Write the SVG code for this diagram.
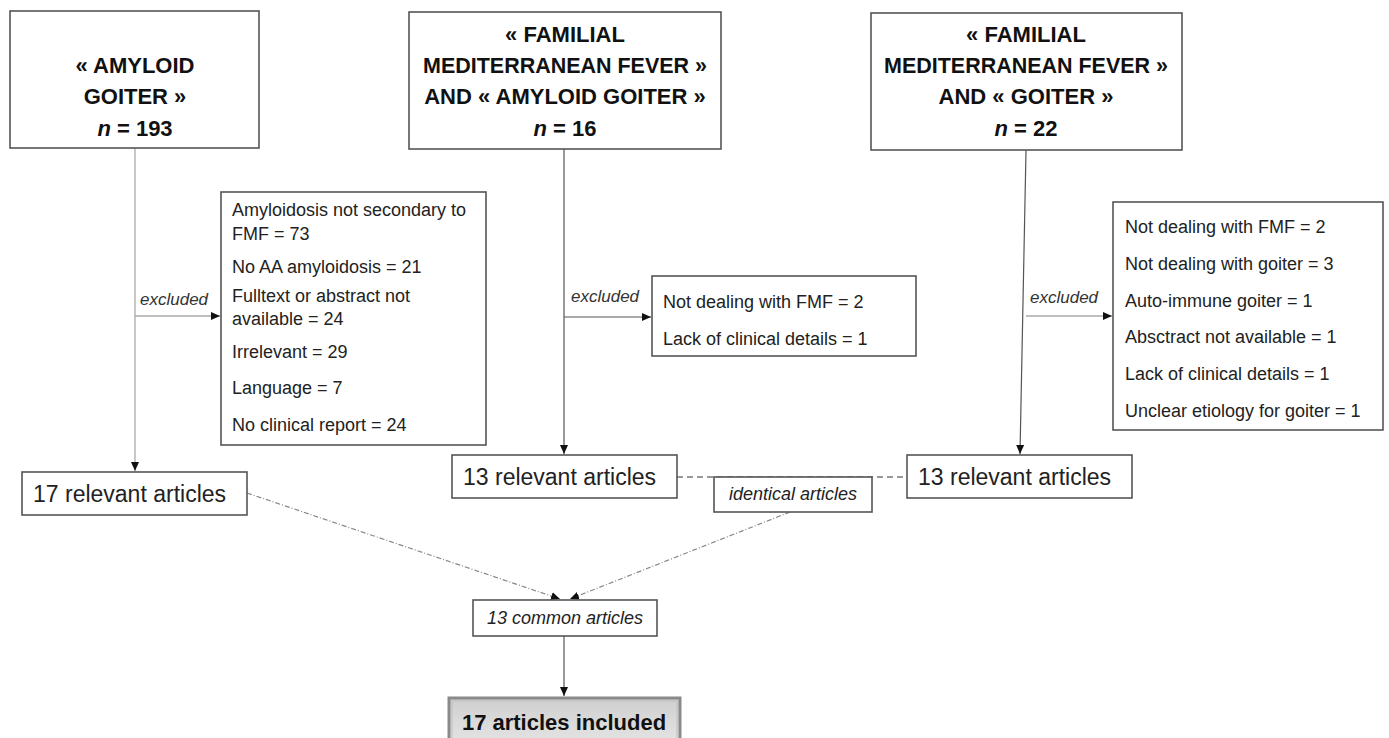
<svg xmlns="http://www.w3.org/2000/svg" width="1389" height="738" viewBox="0 0 1389 738">
<defs>
<style>
.box{fill:#fff;stroke:#555;stroke-width:1.6}
.hdr{font-family:"Liberation Sans",Arial,sans-serif;font-weight:bold;font-size:22px;fill:#111;text-anchor:middle}
.it{font-style:italic}
.txt{font-family:"Liberation Sans",Arial,sans-serif;font-size:18px;fill:#222}
.big{font-family:"Liberation Sans",Arial,sans-serif;font-size:23px;fill:#222}
.lbl{font-family:"Liberation Sans",Arial,sans-serif;font-size:17px;font-style:italic;fill:#333}
.ln{fill:none;stroke:#555;stroke-width:1.2}
.lnl{fill:none;stroke:#aaa;stroke-width:1.3}
.dash{fill:none;stroke:#777;stroke-width:1.5;stroke-dasharray:6 4}
.dd{fill:none;stroke:#888;stroke-width:1.2;stroke-dasharray:5 2 1 2}
</style>
<marker id="ah" markerWidth="10" markerHeight="10" refX="9" refY="5" orient="auto" markerUnits="userSpaceOnUse">
<path d="M0,1 L9,5 L0,9 Z" fill="#111"/>
</marker>
<linearGradient id="g" x1="0" y1="0" x2="0" y2="1">
<stop offset="0" stop-color="#cfcfcf"/>
<stop offset="1" stop-color="#e6e6e6"/>
</linearGradient>
</defs>
<rect width="1389" height="738" fill="#fff"/>

<g id="connectors">
<path class="lnl" d="M135,148 V471" marker-end="url(#ah)"/>
<path class="lnl" d="M135,316 H220" marker-end="url(#ah)"/>
<path class="ln" d="M564,149 V454" marker-end="url(#ah)"/>
<path class="ln" d="M564,317 H651" marker-end="url(#ah)"/>
<path class="ln" d="M1026,150 L1020,454" marker-end="url(#ah)"/>
<path class="lnl" d="M1026,316 H1112" marker-end="url(#ah)"/>
<path class="dash" d="M677,477 H907"/>
<path class="dd" d="M247,493 L560,599" marker-end="url(#ah)"/>
<path class="dd" d="M790,512 L570,599" marker-end="url(#ah)"/>
<path class="ln" d="M564,636 V696" marker-end="url(#ah)"/>
<text class="lbl" x="140" y="305">excluded</text>
<text class="lbl" x="571" y="302">excluded</text>
<text class="lbl" x="1030" y="303">excluded</text>
</g>

<g id="n1">
<rect class="box" x="10" y="11" width="249" height="137"/>
<text class="hdr" x="135" y="73">« AMYLOID</text>
<text class="hdr" x="135" y="104">GOITER »</text>
<text class="hdr" x="135" y="136"><tspan class="it">n</tspan> = 193</text>
</g>

<g id="n2">
<rect class="box" x="409" y="12" width="312" height="137"/>
<text class="hdr" x="565" y="42">« FAMILIAL</text>
<text class="hdr" x="565" y="73" textLength="284" lengthAdjust="spacingAndGlyphs">MEDITERRANEAN FEVER »</text>
<text class="hdr" x="565" y="104">AND « AMYLOID GOITER »</text>
<text class="hdr" x="565" y="136"><tspan class="it">n</tspan> = 16</text>
</g>

<g id="n3">
<rect class="box" x="871" y="13" width="311" height="137"/>
<text class="hdr" x="1026" y="42">« FAMILIAL</text>
<text class="hdr" x="1026" y="73" textLength="284" lengthAdjust="spacingAndGlyphs">MEDITERRANEAN FEVER »</text>
<text class="hdr" x="1026" y="104">AND « GOITER »</text>
<text class="hdr" x="1026" y="136"><tspan class="it">n</tspan> = 22</text>
</g>

<g id="ex1">
<rect class="box" x="221" y="192" width="265" height="253"/>
<text class="txt" x="232" y="216">Amyloidosis not secondary to</text>
<text class="txt" x="232" y="240">FMF = 73</text>
<text class="txt" x="232" y="273">No AA amyloidosis = 21</text>
<text class="txt" x="232" y="302">Fulltext or abstract not</text>
<text class="txt" x="232" y="325">available = 24</text>
<text class="txt" x="232" y="358">Irrelevant = 29</text>
<text class="txt" x="232" y="394">Language = 7</text>
<text class="txt" x="232" y="431">No clinical report = 24</text>
</g>

<g id="ex2">
<rect class="box" x="652" y="276" width="264" height="80"/>
<text class="txt" x="663" y="308">Not dealing with FMF = 2</text>
<text class="txt" x="663" y="345">Lack of clinical details = 1</text>
</g>

<g id="ex3">
<rect class="box" x="1113" y="202" width="270" height="228"/>
<text class="txt" x="1125" y="233">Not dealing with FMF = 2</text>
<text class="txt" x="1125" y="270">Not dealing with goiter = 3</text>
<text class="txt" x="1125" y="307">Auto-immune goiter = 1</text>
<text class="txt" x="1125" y="343">Absctract not available = 1</text>
<text class="txt" x="1125" y="380">Lack of clinical details = 1</text>
<text class="txt" x="1125" y="417">Unclear etiology for goiter = 1</text>
</g>

<g id="r1">
<rect class="box" x="22" y="472" width="225" height="43"/>
<text class="big" x="33" y="502">17 relevant articles</text>
</g>

<g id="r2">
<rect class="box" x="452" y="455" width="225" height="43"/>
<text class="big" x="463" y="485">13 relevant articles</text>
</g>

<g id="r3">
<rect class="box" x="907" y="455" width="225" height="43"/>
<text class="big" x="918" y="485">13 relevant articles</text>
</g>

<g id="ident">
<rect class="box" x="714" y="477" width="158" height="35"/>
<text class="txt it" x="793" y="500" text-anchor="middle">identical articles</text>
</g>

<g id="common">
<rect class="box" x="473" y="600" width="184" height="36"/>
<text class="txt it" x="565" y="624" text-anchor="middle">13 common articles</text>
</g>

<g id="included">
<rect x="449" y="698" width="231" height="50" fill="url(#g)" stroke="#8a8a8a" stroke-width="3"/>
<rect x="452" y="701" width="225" height="44" fill="none" stroke="#bdbdbd" stroke-width="1"/>
<text x="564" y="730" text-anchor="middle" font-family="'Liberation Sans',Arial,sans-serif" font-weight="bold" font-size="22" fill="#111">17 articles included</text>
</g>
</svg>
